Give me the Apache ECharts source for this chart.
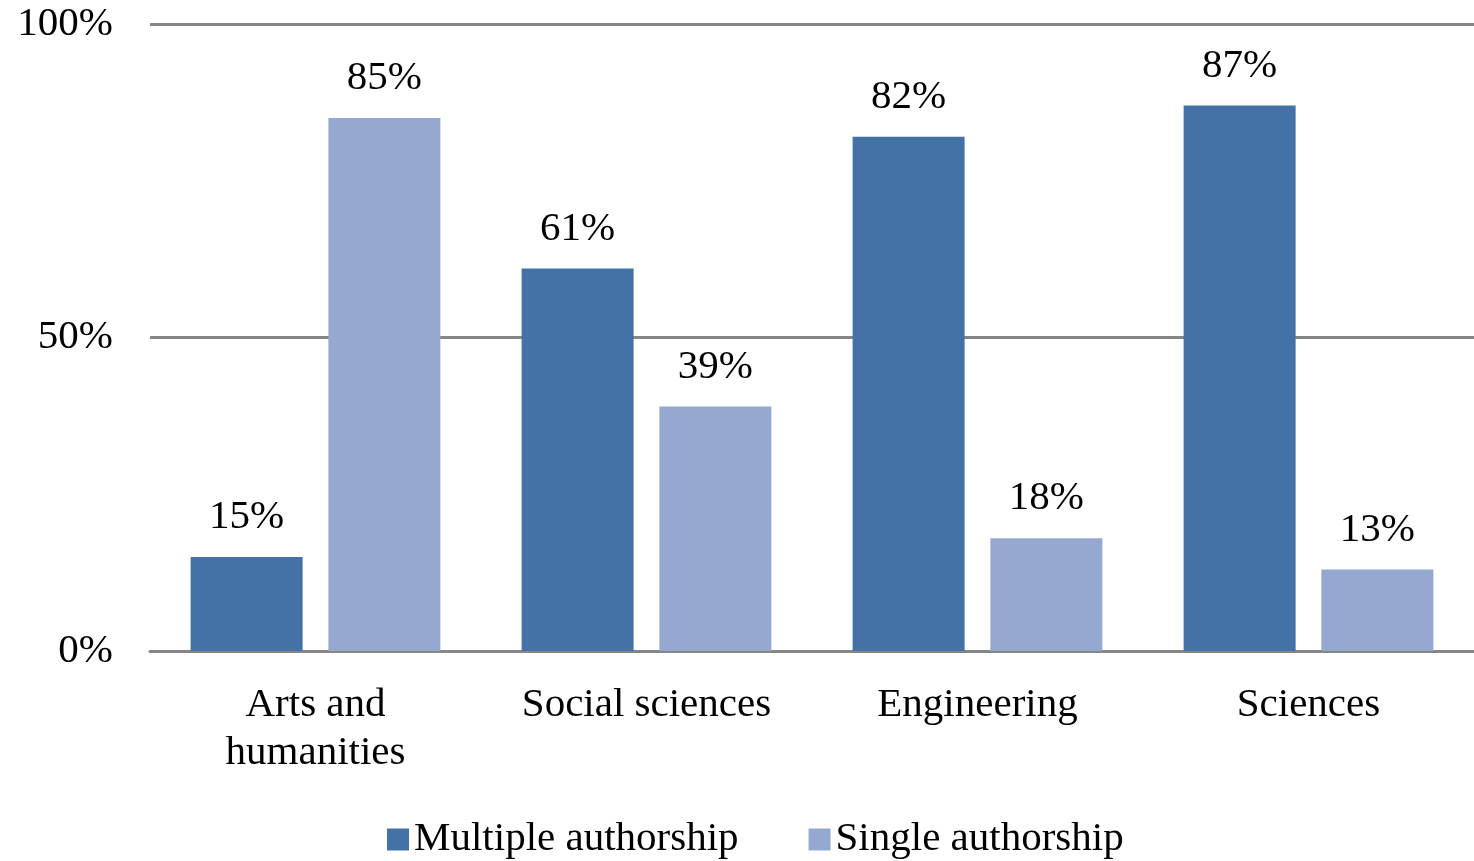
<!DOCTYPE html>
<html><head><meta charset="utf-8">
<script src="https://cdn.jsdelivr.net/npm/echarts@6/dist/echarts.min.js"></script>
<style>html,body{margin:0;padding:0;background:#fff}#c{width:1474px;height:861px}</style>
</head><body><div id="c"></div>
<script>
const categories = ['Arts and\nhumanities', 'Social sciences', 'Engineering', 'Sciences'];
const multiple = [15, 61, 82, 87];
const single = [85, 39, 18, 13];
const seriesNames = ['Multiple authorship', 'Single authorship'];
const yTicks = [0, 50, 100];

const FONT = '"Liberation Serif", "Times New Roman", serif';
const FS = 41;
const chart = echarts.init(document.getElementById('c'));
const label = {
  show: true, position: 'top', distance: 19,
  formatter: p => p.value + '%',
  fontFamily: FONT, fontSize: FS, color: '#000'
};
chart.setOption({
  animation: false,
  grid: { left: 150, right: -4, top: 24, bottom: 210, containLabel: false },
  legend: {
    bottom: -4, left: 382,
    itemWidth: 22, itemHeight: 22, itemGap: 70,
    icon: 'rect',
    textStyle: { fontFamily: FONT, fontSize: FS, color: '#000' },
    data: seriesNames
  },
  xAxis: {
    type: 'category', data: categories,
    axisLine: { show: true, lineStyle: { color: '#868686', width: 3 } },
    axisTick: { show: false },
    axisLabel: { fontFamily: FONT, fontSize: FS, color: '#000', margin: 30, lineHeight: 48, interval: 0 }
  },
  yAxis: {
    type: 'value', min: 0, max: 100, interval: 50,
    axisLine: { show: false }, axisTick: { show: false },
    splitLine: { lineStyle: { color: '#868686', width: 3 } },
    axisLabel: { fontFamily: FONT, fontSize: FS, color: '#000', margin: 37, formatter: v => v + '%' }
  },
  series: [
    { name: seriesNames[0], type: 'bar', data: multiple, barWidth: 112, barGap: '23%',
      itemStyle: { color: '#4472A6' }, label: label },
    { name: seriesNames[1], type: 'bar', data: single, barWidth: 112,
      itemStyle: { color: '#95A9D0' }, label: label }
  ]
});
</script></body></html>
